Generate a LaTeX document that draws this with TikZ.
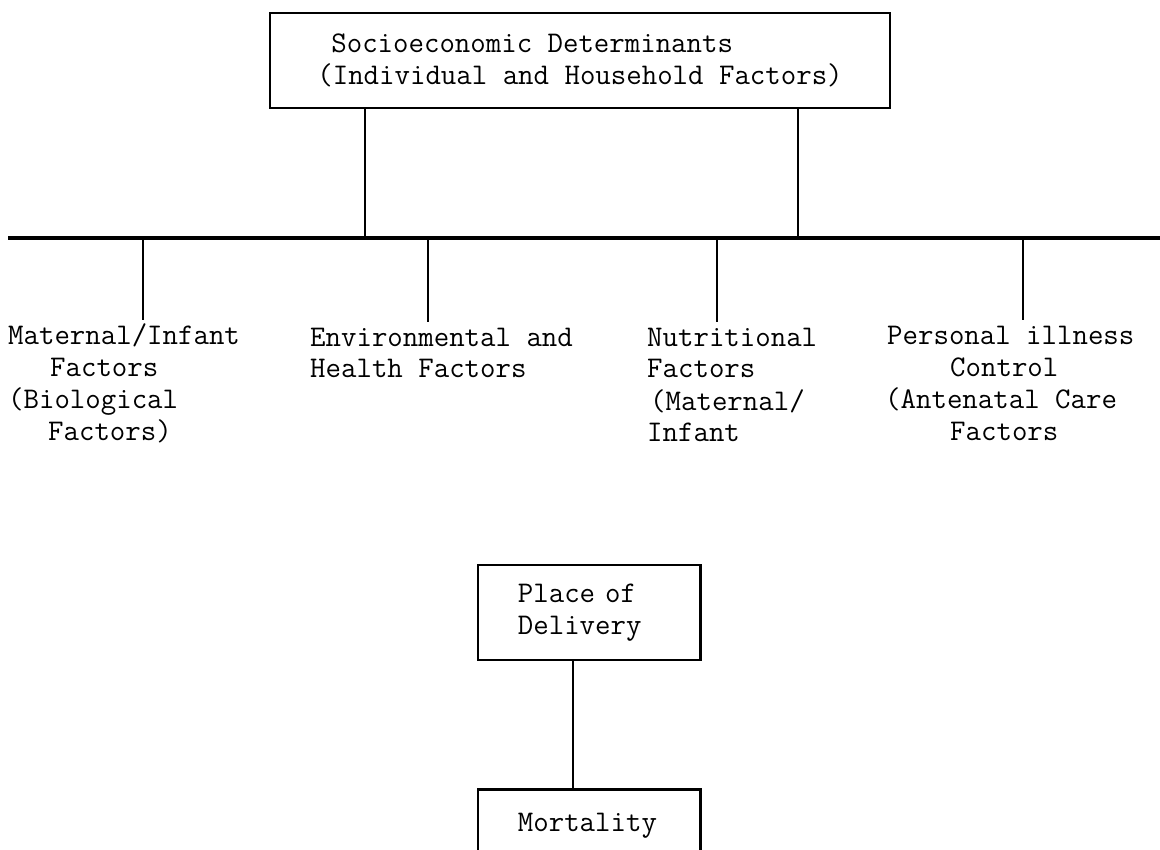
\documentclass[tikz,border=0pt]{standalone}
\usepackage{fontspec}
\begin{document}
\begin{tikzpicture}[x=1pt,y=-1pt,
  every node/.style={font=\fontsize{30}{32}\selectfont\ttfamily, inner sep=0pt, align=left},
  boxnode/.style={draw, line width=2.8pt},
  wire/.style={line width=2.8pt},
  buswire/.style={line width=3.2pt}]
\useasboundingbox (0,0) rectangle (1160,850);
% top box
\node[boxnode, minimum width=620pt, minimum height=95pt] (top) at (580,60.5)
  {\hspace*{14pt}Socioeconomic Determinants\\(Individual and Household Factors)};
% bus
\coordinate (busL) at (8,238);
\coordinate (busR) at (1160,238);
\coordinate (j1) at (365,238);
\coordinate (j2) at (798,238);
\draw[buswire] (busL) -- (busR);
\draw[wire] (top.south -| j1) -- (j1);
\draw[wire] (top.south -| j2) -- (j2);
% factor texts (anchored at the baseline of their last line)
\node[anchor=base west] (mat) at (8,440)
  {Maternal/Infant\\\hspace*{42pt}Factors\\(Biological\\\hspace*{40pt}Factors)};
\node[anchor=base west] (env) at (310,378) {Environmental and\\Health Factors};
\node[anchor=base west] (nut) at (647,442) {Nutritional\\Factors\\\hspace*{3pt}(Maternal/\\Infant};
\node[anchor=base west] (per) at (885,440)
  {\hspace*{2pt}Personal illness\\\hspace*{65pt}Control\\(Antenatal Care\\\hspace*{65pt}Factors};
% ticks
\coordinate (t1) at (143,238); \coordinate (t1e) at (143,320);
\coordinate (t2) at (428,238); \coordinate (t2e) at (428,322);
\coordinate (t3) at (717,238); \coordinate (t3e) at (717,322);
\coordinate (t4) at (1023,238); \coordinate (t4e) at (1023,320);
\draw[wire] (t1) -- (t1e);
\draw[wire] (t2) -- (t2e);
\draw[wire] (t3) -- (t3e);
\draw[wire] (t4) -- (t4e);
% bottom boxes
\node[boxnode, text width=142.2pt, inner xsep=40pt, minimum height=95pt] (place) at (589,612.5)
  {Place of\\Delivery};
\node[boxnode, anchor=north, text width=142.2pt, inner xsep=40pt, inner ysep=23.5pt] (mort) at (589,788)
  {Mortality};
\draw[wire] ([xshift=-16pt]place.south) -- ([xshift=-16pt]place.south |- mort.north);
\end{tikzpicture}
\end{document}
